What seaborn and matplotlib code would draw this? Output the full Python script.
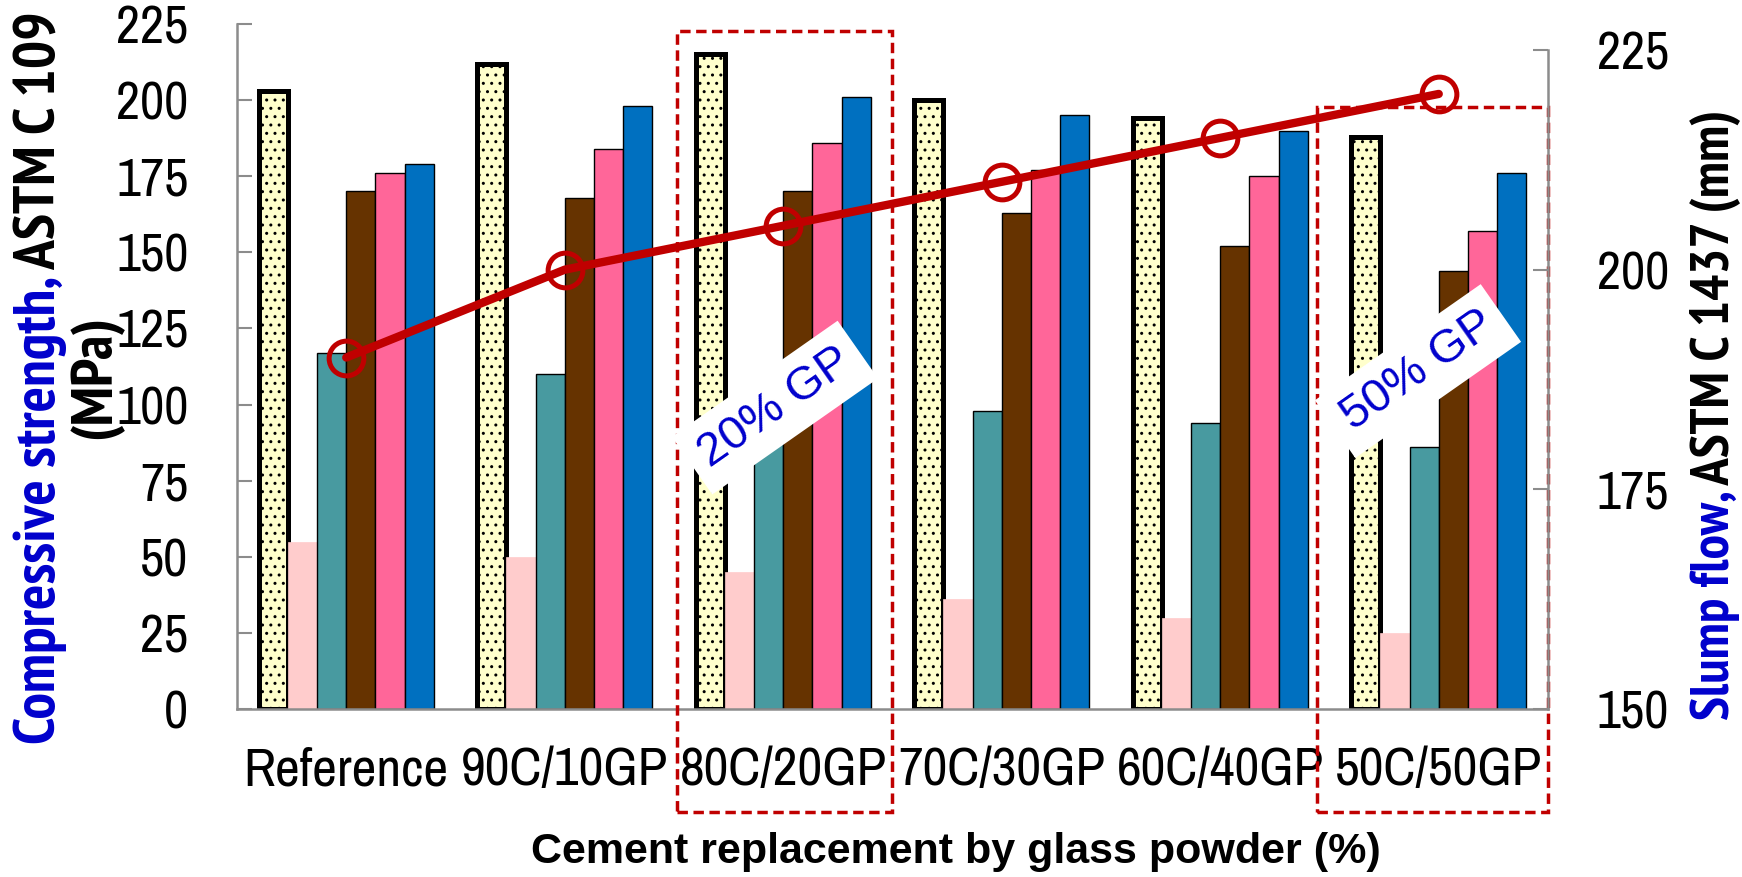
import matplotlib
matplotlib.use("Agg")
import matplotlib.pyplot as plt
import matplotlib.patches as mpatches
from matplotlib import font_manager
from matplotlib.transforms import blended_transform_factory
import numpy as np
import pandas as pd
import seaborn as sns

# data
mixes = ["Reference", "90C/10GP", "80C/20GP", "70C/30GP", "60C/40GP", "50C/50GP"]
series = ["Set 1", "Set 2", "Set 3", "Set 4", "Set 5", "Set 6"]
set1 = [203, 212, 215, 200, 194, 188]
set2 = [55, 50, 45, 36, 30, 25]
set3 = [117, 110, 104, 98, 94, 86]
set4 = [170, 168, 170, 163, 152, 144]
set5 = [176, 184, 186, 177, 175, 157]
set6 = [179, 198, 201, 195, 190, 176]
slump_flow = [190, 200, 205, 210, 215, 220]

colors = ["#FFFFCC", "#FFCCCC", "#489AA0", "#663300", "#FF6699", "#0070C0"]
RED, BLUE, GREY = "#C00000", "#0000CC", "#8C8C8C"

sns.set_style("white")


def wt(f):
    w = f.weight
    return font_manager.weight_dict.get(w, 400) if isinstance(w, str) else int(w)


# narrow fonts in place of Arial Narrow
fonts = font_manager.fontManager.ttflist
names = {f.name for f in fonts}
bold_names = {f.name for f in fonts if wt(f) >= 700}
NARROW = next((n for n in ["Liberation Sans Narrow", "Arimo Narrow", "Archivo Narrow",
                           "Roboto Condensed", "PT Sans Narrow", "Liberation Sans"] if n in names))
NARROW_B = next((n for n in ["Liberation Sans Narrow", "PT Sans Narrow", "Pragati Narrow",
                             "Cabin Condensed", "Barlow Semi Condensed", "Asap Condensed",
                             "Roboto Condensed", "Archivo Narrow", "Liberation Sans"]
                 if n in bold_names))
REG = "Liberation Sans"
plt.rcParams["font.family"] = [NARROW, "DejaVu Sans"]
plt.rcParams["text.color"] = "black"
plt.rcParams["hatch.color"] = "black"

W, H = 1742, 877
fig = plt.figure(figsize=(W / 100, H / 100), dpi=100)
ax = fig.add_axes([237 / W, 1 - 709 / H, (1548 - 237) / W, (709 - 24) / H])

df = pd.DataFrame({"mix": mixes, "Set 1": set1, "Set 2": set2, "Set 3": set3,
                   "Set 4": set4, "Set 5": set5, "Set 6": set6})
df = df.melt(id_vars="mix", var_name="series", value_name="value")

sns.barplot(data=df, x="mix", y="value", hue="series", order=mixes, hue_order=series,
            palette=colors, saturation=1, width=0.8, errorbar=None, legend=False, ax=ax)

for i, cont in enumerate(ax.containers):
    for p in cont:
        p.set_zorder(2)
        if i == 0:
            p.set_edgecolor("black"); p.set_linewidth(3.6); p.set_hatch("..")
        elif i == 1:
            p.set_edgecolor(colors[1]); p.set_linewidth(0.5)
        else:
            p.set_edgecolor("black"); p.set_linewidth(1.0)

ax.set_xlim(-0.5, 5.5)
ax.set_ylim(0, 225)
ax.set_yticks(np.arange(0, 226, 25))
ax.set_xticks(np.arange(-0.5, 6, 1), minor=True)
ax.set_xlabel(""); ax.set_ylabel("")
ax.tick_params(axis="x", which="both", direction="in", length=11, width=1.5, color=GREY)
ax.tick_params(axis="x", which="major", labelsize=39, pad=27, labelcolor="black")
ax.tick_params(axis="y", direction="in", length=11, width=1.5, color=GREY,
               labelsize=38, pad=35, labelcolor="black")
for s in ["top", "right"]:
    ax.spines[s].set_visible(False)
for s in ["left", "bottom"]:
    ax.spines[s].set_color(GREY); ax.spines[s].set_linewidth(1.8)

# slump flow on the right axis
ax2 = ax.twinx()
sns.lineplot(x=np.arange(len(mixes)), y=slump_flow, ax=ax2, color=RED, lw=6,
             marker="o", markersize=25, markerfacecolor="none", markeredgecolor=RED,
             markeredgewidth=3.6, zorder=5)
ax2.set_ylim(150, 150 + 75 * (709 - 24) / (709 - 50))
ax2.set_yticks([150, 175, 200, 225])
ax2.set_ylabel("")
ax2.tick_params(axis="y", direction="in", length=11, width=1.5, color=GREY,
                labelsize=38, pad=35, labelcolor="black")
for s in ["top", "left", "bottom"]:
    ax2.spines[s].set_visible(False)
ax2.spines["right"].set_color(GREY); ax2.spines["right"].set_linewidth(1.8)
ax2.spines["right"].set_bounds(150, 225)
ax2.set_xlim(-0.5, 5.5)

# dashed frames and notes
bt = blended_transform_factory(ax.transData, ax.transAxes)
for idx, top, left in [(2, 0.990, 0.486), (5, 0.879, 0.557)]:
    ax.add_patch(mpatches.Rectangle((idx - left, -0.150), left + 0.498, top + 0.150, transform=bt,
                                    fill=False, ec=RED, lw=2.5, ls=(0, (3, 1.6)),
                                    clip_on=False, zorder=4))
for x, y, s in [(1.962, 99, "20% GP"), (4.905, 111, "50% GP")]:
    ax.text(x, y, s, rotation=35, rotation_mode="anchor", ha="center", va="center",
            fontsize=34, color=BLUE, family=[REG, "DejaVu Sans"], zorder=6,
            bbox=dict(boxstyle="square,pad=0.28", fc="white", ec="none"))

# axis titles, two colours each, sized to the reference length
renderer = fig.canvas.get_renderer()
kw = dict(fontweight="bold", rotation=90, rotation_mode="anchor", va="baseline",
          family=[NARROW_B, "DejaVu Sans"])


def two_tone(xb, yc, first, rest, target):
    t = fig.text(0, 0, first + rest, ha="left", fontsize=38, **kw)
    size = 38 * target / t.get_window_extent(renderer).height
    t.set_fontsize(size)
    L = t.get_window_extent(renderer).height / fig.bbox.height
    t.remove()
    y0 = yc - L / 2
    fig.text(xb, y0, first, ha="left", color=BLUE, fontsize=size, **kw)
    fig.text(xb, y0 + L, rest, ha="right", color="black", fontsize=size, **kw)
    return size


size = two_tone(55 / W, 1 - 377.5 / H, "Compressive strength,", " ASTM C 109", 731)
fig.text(110 / W, 1 - 377 / H, "(MPa)", ha="center", color="black", fontsize=size, **kw)
two_tone(1729 / W, 1 - 415 / H, "Slump flow,", " ASTM C 1437 (mm)", 610)

fig.text(956 / W, 1 - 863 / H, "Cement replacement by glass powder (%)", ha="center",
         va="baseline", fontsize=31, fontweight="bold", family=[REG, "DejaVu Sans"])

fig.savefig("out.png", dpi=100)
